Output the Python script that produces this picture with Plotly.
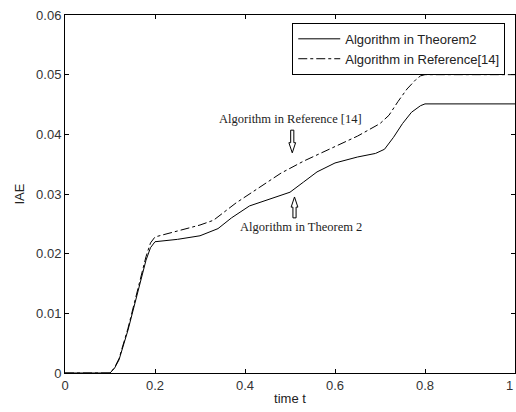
import plotly.graph_objects as go

# Data
t_thm = [0, 0.1, 0.11, 0.12, 0.14, 0.16, 0.18, 0.19, 0.2, 0.25, 0.3, 0.34, 0.37, 0.41, 0.45,
         0.5, 0.53, 0.56, 0.6, 0.65, 0.69, 0.71, 0.73, 0.75, 0.77, 0.79, 0.8, 1.0]
iae_thm = [0, 0, 0.0008, 0.0022, 0.0072, 0.0130, 0.0189, 0.0210, 0.0220, 0.0224, 0.0230, 0.0242,
           0.0260, 0.0280, 0.0290, 0.0303, 0.0320, 0.0337, 0.0352, 0.0362, 0.0368, 0.0375,
           0.0395, 0.0418, 0.0437, 0.0448, 0.0451, 0.0451]

t_ref = [0, 0.1, 0.11, 0.12, 0.14, 0.16, 0.18, 0.19, 0.2, 0.25, 0.3, 0.33, 0.38, 0.43, 0.48,
         0.53, 0.6, 0.65, 0.7, 0.72, 0.74, 0.76, 0.78, 0.79, 0.8, 1.0]
iae_ref = [0, 0, 0.0009, 0.0024, 0.0075, 0.0135, 0.0195, 0.0218, 0.0228, 0.0238, 0.0248, 0.0256,
           0.0285, 0.0310, 0.0335, 0.0355, 0.0380, 0.0397, 0.0418, 0.0432, 0.0455, 0.0476,
           0.0492, 0.0498, 0.0500, 0.0500]

x_ticks = [0, 0.2, 0.4, 0.6, 0.8, 1]
x_labels = ["0", "0.2", "0.4", "0.6", "0.8", "1"]
y_ticks = [0, 0.01, 0.02, 0.03, 0.04, 0.05, 0.06]
y_labels = ["0", "0.01", "0.02", "0.03", "0.04", "0.05", "0.06"]

names = ["Algorithm in Theorem2", "Algorithm in Reference[14]"]

sans = "Liberation Sans, Arial, sans-serif"
serif = "Liberation Serif, Times New Roman, serif"

fig = go.Figure()
fig.add_trace(go.Scatter(x=t_thm, y=iae_thm, mode="lines", name=names[0],
                         line=dict(color="black", width=1, dash="solid")))
fig.add_trace(go.Scatter(x=t_ref, y=iae_ref, mode="lines", name=names[1],
                         line=dict(color="black", width=1, dash="dashdot")))

fig.add_annotation(x=0.502, y=0.0425, text="Algorithm in Reference [14]", showarrow=False,
                   font=dict(family=serif, size=12.5, color="#222"))
fig.add_annotation(x=0.525, y=0.0245, text="Algorithm in Theorem 2", showarrow=False,
                   font=dict(family=serif, size=12.5, color="#222"))

# last x tick label at the right edge (kept fully visible)
fig.add_annotation(x=x_ticks[-1], y=0, yref="paper", xanchor="right", yanchor="top", yshift=-3,
                   text=x_labels[-1], showarrow=False,
                   font=dict(family=sans, size=13, color="#333"))

# hollow block arrows (data coordinates)
def down_arrow(xc, ytop, ybot, sw=0.0035, hw=0.0075, hh=0.0017):
    return (f"M {xc-sw} {ytop} L {xc+sw} {ytop} L {xc+sw} {ybot+hh} L {xc+hw} {ybot+hh} "
            f"L {xc} {ybot} L {xc-hw} {ybot+hh} L {xc-sw} {ybot+hh} Z")

def up_arrow(xc, ytip, ybot, sw=0.0035, hw=0.0075, hh=0.0017):
    return (f"M {xc-sw} {ybot} L {xc+sw} {ybot} L {xc+sw} {ytip-hh} L {xc+hw} {ytip-hh} "
            f"L {xc} {ytip} L {xc-hw} {ytip-hh} L {xc-sw} {ytip-hh} Z")

fig.add_shape(type="path", path=down_arrow(0.505, 0.0407, 0.0369),
              line=dict(color="black", width=1), fillcolor="white")
fig.add_shape(type="path", path=up_arrow(0.51, 0.0295, 0.0260),
              line=dict(color="black", width=1), fillcolor="white")

axis_common = dict(showline=True, linecolor="black", linewidth=1, mirror="ticks",
                   ticks="inside", ticklen=4, tickcolor="black", showgrid=False,
                   zeroline=False, tickfont=dict(family=sans, size=13, color="#333"))

fig.update_xaxes(range=[0, 1], tickvals=x_ticks, ticktext=x_labels,
                 title=dict(text="time t", font=dict(family=sans, size=13, color="#222"),
                            standoff=2), **axis_common)
fig.update_yaxes(range=[0, 0.06], tickvals=y_ticks, ticktext=y_labels,
                 title=dict(text="IAE", font=dict(family=sans, size=13, color="#222"),
                            standoff=8), **axis_common)

fig.update_layout(
    width=516, height=412,
    margin=dict(l=65, r=1, t=15, b=39),
    plot_bgcolor="white", paper_bgcolor="white",
    showlegend=True,
    legend=dict(x=0.505, y=0.978, xanchor="left", yanchor="top",
                bgcolor="white", bordercolor="black", borderwidth=1,
                font=dict(family=sans, size=13, color="#222"),
                tracegroupgap=0, itemwidth=42),
)

fig.write_html("out.html")
